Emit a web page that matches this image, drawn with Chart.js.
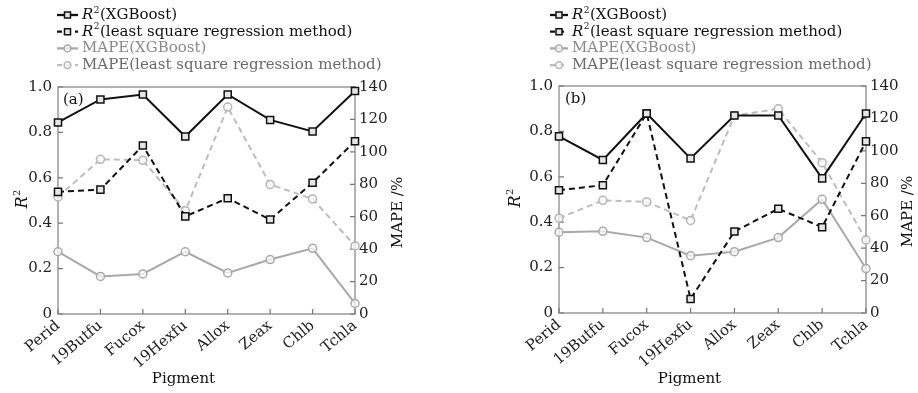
<!DOCTYPE html>
<html>
<head>
<meta charset="utf-8">
<script src="https://cdn.jsdelivr.net/npm/chart.js@4.4.1/dist/chart.umd.min.js"></script>
<style>
  html, body { margin: 0; padding: 0; background: #fff; }
  #wrap { display: flex; width: 918px; height: 393px; }
  .panel { width: 459px; height: 393px; }
</style>
</head>
<body>
<div id="wrap">
  <div class="panel"><canvas id="chartA" width="459" height="393"></canvas></div>
  <div class="panel"><canvas id="chartB" width="459" height="393"></canvas></div>
</div>
<script>
const pigments = ['Perid', '19Butfu', 'Fucox', '19Hexfu', 'Allox', 'Zeax', 'Chlb', 'Tchla'];

// panel (a)
const r2XgbA   = [0.844, 0.945, 0.967, 0.782, 0.967, 0.855, 0.804, 0.982];
const r2LsrA   = [0.538, 0.548, 0.742, 0.430, 0.510, 0.416, 0.578, 0.761];
const mapeXgbA = [38.4, 23.2, 24.7, 38.4, 25.3, 33.6, 40.5, 6.5];
const mapeLsrA = [72.2, 95.4, 94.8, 63.7, 127.6, 79.9, 71.0, 42.0];

// panel (b)
const r2XgbB   = [0.778, 0.674, 0.879, 0.681, 0.870, 0.870, 0.593, 0.879];
const r2LsrB   = [0.541, 0.563, 0.879, 0.062, 0.359, 0.459, 0.378, 0.756];
const mapeXgbB = [49.8, 50.4, 46.5, 35.3, 37.8, 46.5, 70.1, 27.4];
const mapeLsrB = [58.5, 69.5, 68.5, 57.1, 121.8, 125.9, 92.7, 45.0];

const seriesNames = ['R²(XGBoost)', 'R²(least square regression method)',
                     'MAPE(XGBoost)', 'MAPE(least square regression method)'];
const legendTextColors = ['#111', '#111', '#8a8a8a', '#6a6a6a'];

const FONT = 'DejaVu Serif';
Chart.defaults.font.family = FONT;
Chart.defaults.color = '#222';

// draws "R²..." with an italic R and a raised 2, returns end x
function drawR2Text(ctx, text, x, y, size) {
  ctx.font = 'italic ' + size + 'px "' + FONT + '"';
  ctx.fillText('R', x, y);
  x += ctx.measureText('R').width + 0.5;
  ctx.font = Math.round(size * 0.6) + 'px "' + FONT + '"';
  ctx.fillText('2', x, y - size * 0.32);
  x += ctx.measureText('2').width + 0.5;
  ctx.font = size + 'px "' + FONT + '"';
  ctx.fillText(text, x, y);
  return x + ctx.measureText(text).width;
}

function drawMarker(ctx, ds, x, y, r) {
  ctx.setLineDash([]);
  ctx.lineWidth = ds.pointBorderWidth;
  ctx.strokeStyle = ds.pointBorderColor;
  ctx.fillStyle = ds.pointBackgroundColor;
  ctx.beginPath();
  if (ds.pointStyle === 'rect') {
    const s = r * Math.SQRT1_2;
    ctx.rect(x - s, y - s, 2 * s, 2 * s);
  } else {
    ctx.arc(x, y, r, 0, Math.PI * 2);
  }
  ctx.fill();
  ctx.stroke();
}

const decoPlugin = {
  id: 'deco',
  beforeDatasetsDraw(chart, args, o) {
    const ctx = chart.ctx, a = chart.chartArea;
    ctx.save();
    // frame round the plot
    ctx.strokeStyle = '#999';
    ctx.lineWidth = 1.5;
    ctx.strokeRect(a.left, a.top, a.right - a.left, a.bottom - a.top);
    // inward ticks on the bottom, left and right axes
    ctx.strokeStyle = '#777';
    ctx.lineWidth = 1.2;
    ctx.beginPath();
    const xs = chart.scales.x;
    xs.ticks.forEach((t, i) => {
      const px = xs.getPixelForTick(i);
      ctx.moveTo(px, a.bottom);
      ctx.lineTo(px, a.bottom - 5);
    });
    const yl = chart.scales.y;
    yl.ticks.forEach((t, i) => {
      const py = yl.getPixelForTick(i);
      ctx.moveTo(a.left, py);
      ctx.lineTo(a.left + 5, py);
    });
    const yr = chart.scales.y1;
    yr.ticks.forEach((t, i) => {
      const py = yr.getPixelForTick(i);
      ctx.moveTo(a.right, py);
      ctx.lineTo(a.right - 5, py);
    });
    ctx.stroke();
    ctx.restore();
  },
  afterDraw(chart, args, o) {
    const ctx = chart.ctx, a = chart.chartArea;
    ctx.save();
    ctx.textBaseline = 'middle';
    ctx.fillStyle = '#111';

    // panel letter
    ctx.font = '15px "' + FONT + '"';
    ctx.textAlign = 'left';
    ctx.fillText(o.panel, a.left + o.panelDx, a.top + 13);

    // x axis title
    ctx.textAlign = 'center';
    ctx.fillText('Pigment', (a.left + a.right) / 2 - 23, 379);

    // left axis title R²
    ctx.save();
    ctx.translate(o.r2X, (a.top + a.bottom) / 2);
    ctx.rotate(-Math.PI / 2);
    ctx.textAlign = 'left';
    drawR2Text(ctx, '', -8, 0, 16);
    ctx.restore();

    // right axis title
    ctx.save();
    ctx.translate(a.right + o.mapeDx, (a.top + a.bottom) / 2 + 12);
    ctx.rotate(-Math.PI / 2);
    ctx.textAlign = 'center';
    ctx.font = '15px "' + FONT + '"';
    ctx.fillText('MAPE /%', 0, 0);
    ctx.restore();

    // legend
    chart.data.datasets.forEach((ds, i) => {
      const y = o.legendTop + i * o.legendGap;
      const x0 = o.legendX, x1 = o.legendX + o.legendLen;
      ctx.strokeStyle = ds.borderColor;
      ctx.lineWidth = ds.borderWidth + 0.3;
      ctx.setLineDash(ds.borderDash ? [5, 4] : []);
      ctx.beginPath();
      ctx.moveTo(x0, y);
      ctx.lineTo(x1, y);
      ctx.stroke();
      drawMarker(ctx, ds, (x0 + x1) / 2, y, ds.pointRadius * 0.85);
      ctx.fillStyle = legendTextColors[i];
      ctx.textAlign = 'left';
      const tx = x1 + 4;
      if (ds.label.startsWith('R²')) {
        drawR2Text(ctx, ds.label.slice(2), tx, y, 15);
      } else {
        ctx.font = '15px "' + FONT + '"';
        ctx.fillText(ds.label, tx, y);
      }
    });
    ctx.restore();
  }
};

function makeChart(id, r2Xgb, r2Lsr, mapeXgb, mapeLsr, deco) {
  const common = { clip: false, tension: 0, borderWidth: 2, pointBorderWidth: 1.5 };
  return new Chart(document.getElementById(id), {
    type: 'line',
    data: {
      labels: pigments,
      datasets: [
        Object.assign({}, common, {
          label: seriesNames[0], data: r2Xgb, yAxisID: 'y',
          borderColor: '#111', pointStyle: 'rect', pointRadius: 5,
          pointBorderColor: '#111', pointBackgroundColor: '#e6e6e6'
        }),
        Object.assign({}, common, {
          label: seriesNames[1], data: r2Lsr, yAxisID: 'y',
          borderColor: '#111', borderDash: [6, 4], pointStyle: 'rect', pointRadius: 5,
          pointBorderColor: '#111', pointBackgroundColor: '#e6e6e6'
        }),
        Object.assign({}, common, {
          label: seriesNames[2], data: mapeXgb, yAxisID: 'y1',
          borderColor: '#a9a9a9', pointStyle: 'circle', pointRadius: 4,
          pointBorderColor: '#a9a9a9', pointBackgroundColor: 'rgba(255,255,255,0.7)'
        }),
        Object.assign({}, common, {
          label: seriesNames[3], data: mapeLsr, yAxisID: 'y1',
          borderColor: '#bdbdbd', borderDash: [6, 4], pointStyle: 'circle', pointRadius: 4,
          pointBorderColor: '#b5b5b5', pointBackgroundColor: 'rgba(255,255,255,0.7)'
        })
      ]
    },
    options: {
      responsive: false,
      animation: false,
      devicePixelRatio: 1,
      layout: { padding: { top: deco.top, left: 0, right: 0, bottom: 0 } },
      scales: {
        x: {
          type: 'category',
          offset: false,
          grid: { display: false, drawTicks: false },
          border: { display: false },
          ticks: { autoSkip: false, maxRotation: 40, minRotation: 40, padding: 3,
                   font: { size: 15 }, color: '#222' },
          afterFit(s) { s.height = deco.xHeight; }
        },
        y: {
          position: 'left',
          min: 0, max: 1,
          grid: { display: false, drawTicks: false },
          border: { display: false },
          ticks: { stepSize: 0.2, padding: 6, font: { size: 15 }, color: '#222',
                   callback: v => v === 0 ? '0' : v.toFixed(1) },
          afterFit(s) { s.width = deco.leftW; }
        },
        y1: {
          position: 'right',
          min: 0, max: 140,
          grid: { display: false, drawTicks: false },
          border: { display: false },
          ticks: { stepSize: 20, padding: 4, font: { size: 15 }, color: '#222' },
          afterFit(s) { s.width = deco.rightW; }
        }
      },
      plugins: {
        legend: { display: false },
        tooltip: { enabled: false },
        deco: deco
      }
    },
    plugins: [decoPlugin]
  });
}

makeChart('chartA', r2XgbA, r2LsrA, mapeXgbA, mapeLsrA, {
  top: 87, xHeight: 79, leftW: 58, rightW: 104,
  panel: '(a)', panelDx: 5, r2X: 23, mapeDx: 43,
  legendX: 57, legendLen: 21, legendTop: 15, legendGap: 16.7
});

makeChart('chartB', r2XgbB, r2LsrB, mapeXgbB, mapeLsrB, {
  top: 86, xHeight: 80, leftW: 100, rightW: 52,
  panel: '(b)', panelDx: 6, r2X: 57, mapeDx: 42,
  legendX: 91, legendLen: 18, legendTop: 15, legendGap: 16.7
});
</script>
</body>
</html>
